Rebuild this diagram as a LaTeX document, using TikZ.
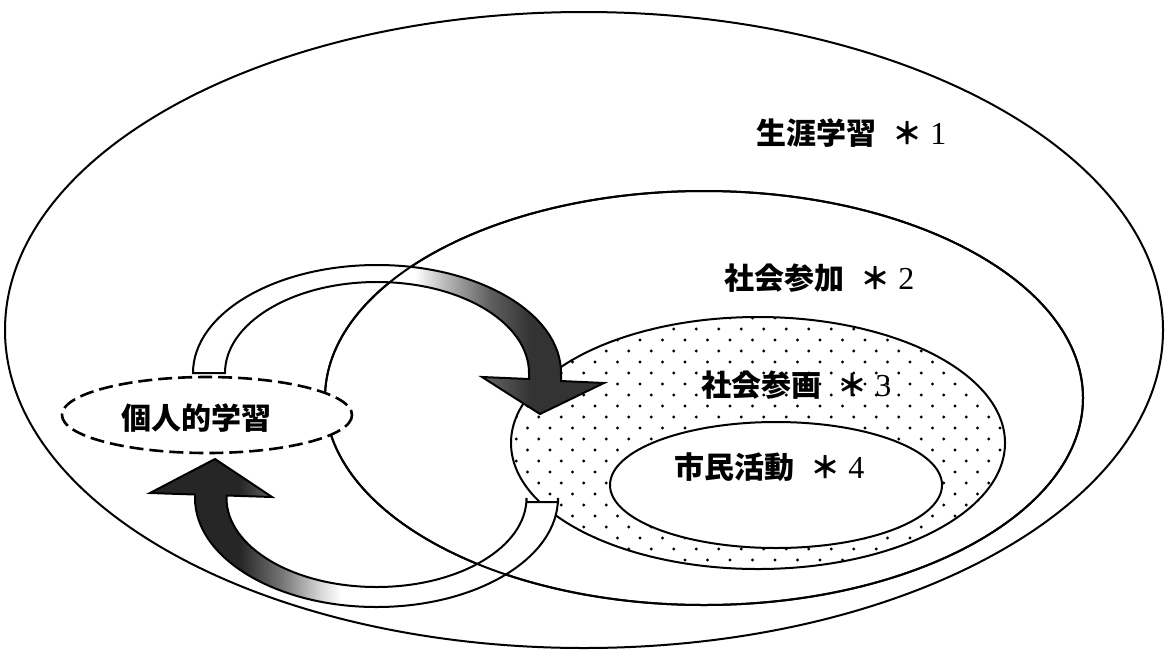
\documentclass[tikz,border=0pt]{standalone}
\usepackage{fontspec}
\setmainfont{Liberation Serif}
\newfontfamily\cjk{Noto Sans CJK JP}
\usetikzlibrary{shapes.geometric}
\pgfdeclarehorizontalshading{topgrad}{100bp}{color(0bp)=(white); color(52bp)=(white); color(56bp)=(black!30); color(61bp)=(black!62); color(66bp)=(black!80); color(100bp)=(black!80)}
\pgfdeclarehorizontalshading{botgrad}{100bp}{color(0bp)=(black!85); color(36bp)=(black!85); color(41bp)=(black!55); color(46bp)=(black!15); color(48.5bp)=(white); color(100bp)=(white)}
\tikzset{
  ring/.style={draw=black, line width=1pt},
  band/.style={draw=black, line width=1pt, line join=miter},
  dashring/.style={draw=black, line width=1.3pt, dash pattern=on 7pt off 3pt},
  lbl/.style={anchor=west, inner sep=0pt, font=\fontsize{15}{18}\selectfont},
}
\newcommand\lab[2]{{\cjk\bfseries #1}\hspace{8pt}{\cjk\bfseries ＊}\hspace{4pt}{\fontsize{16}{18}\selectfont #2}}
\begin{document}
\begin{tikzpicture}[x=0.5pt,y=-0.5pt]
\useasboundingbox (0,0) rectangle (1165,653);
\fill[white] (0,0) rectangle (1165,653);
% lifelong learning
\draw[ring] (584,330) ellipse [x radius=579, y radius=318];
% social participation
\draw[ring] (704,398) ellipse [x radius=379, y radius=207];
% dotted ellipse (social planning)
\begin{scope}
  \clip (758,443) ellipse [x radius=247, y radius=126];
  \foreach \j in {0,...,24}{
    \pgfmathsetmacro\off{mod(\j,2)*11.25}
    \foreach \i in {0,...,23}{
      \fill (505+\i*22.5+\off, 318+\j*11) circle[radius=1.6];
    }
  }
\end{scope}
\draw[ring] (758,443) ellipse [x radius=247, y radius=126];
% civic activity
\draw[ring, fill=white] (776,485) ellipse [x radius=166, y radius=63];
% top arrow
\shadedraw[shading=topgrad, band] (193,373)
  arc[start angle=180, end angle=360, x radius=184, y radius=108]
  -- (561,381) -- (604,383) -- (540,414) -- (482,377) -- (529,379) -- (529,373)
  arc[start angle=360, end angle=180, x radius=152, y radius=91] -- cycle;
% bottom arrow
\shadedraw[shading=botgrad, band] (558,502) -- (558,498)
  arc[start angle=0, end angle=180, x radius=181.5, y radius=109]
  -- (195,494.5) -- (150,493) -- (215,459) -- (272,497) -- (226.5,495.5) -- (226.5,498)
  arc[start angle=180, end angle=0, x radius=150, y radius=89] -- (526.5,502) -- cycle;
% social participation outline over the bands
\draw[ring] (704,398) ellipse [x radius=379, y radius=207];
% personal learning
\draw[dashring, fill=white] (207,415) ellipse [x radius=145, y radius=38];
% labels
\node[lbl] (l1) at (756,133) {\lab{生涯学習}{1}};
\node[lbl] (l2) at (724,278) {\lab{社会参加}{2}};
\node[lbl] (l3) at (701,385) {\lab{社会参画}{3}};
\node[lbl] (l4) at (674,467) {\lab{市民活動}{4}};
\node[lbl] (kojin) at (121,418) {{\cjk\bfseries 個人的学習}};
\end{tikzpicture}
\end{document}
